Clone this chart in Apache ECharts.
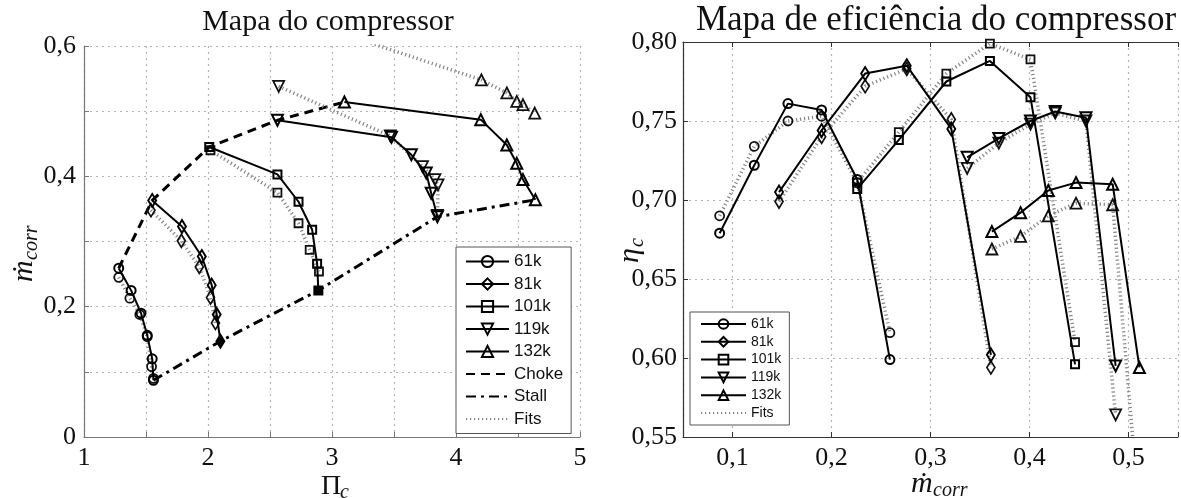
<!DOCTYPE html>
<html>
<head>
<meta charset="utf-8">
<script src="https://cdn.jsdelivr.net/npm/echarts@6.0.0/dist/echarts.min.js"></script>
<style>
  html, body { margin: 0; padding: 0; background: #fff; }
  #chart { width: 1181px; height: 498px; }
</style>
</head>
<body>
<div id="chart"></div>
<script>
// ---------- Compressor map: pressure ratio (Π_c) vs corrected mass flow ----------
const speeds = ['61k', '81k', '101k', '119k', '132k'];

// measured points (solid lines)
const map61Pi  = [1.28, 1.38, 1.46, 1.51, 1.55, 1.56];
const map61M   = [0.259, 0.225, 0.190, 0.156, 0.120, 0.087];
const map81Pi  = [1.55, 1.79, 1.95, 2.03, 2.07, 2.10];
const map81M   = [0.363, 0.323, 0.277, 0.233, 0.188, 0.147];
const map101Pi = [2.01, 2.56, 2.73, 2.84, 2.88, 2.89];
const map101M  = [0.445, 0.403, 0.361, 0.318, 0.266, 0.225];
const map119Pi = [2.56, 3.48, 3.64, 3.76, 3.80, 3.85];
const map119M  = [0.486, 0.460, 0.433, 0.405, 0.374, 0.338];
const map132Pi = [3.10, 4.20, 4.41, 4.49, 4.54, 4.64];
const map132M  = [0.514, 0.487, 0.448, 0.420, 0.395, 0.364];

// fitted points (dotted lines)
const fit61Pi  = [1.28, 1.37, 1.45, 1.51, 1.545, 1.56];
const fit61M   = [0.245, 0.213, 0.188, 0.154, 0.108, 0.090];
const fit81Pi  = [1.54, 1.785, 1.93, 2.02, 2.06];
const fit81M   = [0.348, 0.301, 0.261, 0.214, 0.175];
const fit101Pi = [2.02, 2.56, 2.73, 2.82, 2.895];
const fit101M  = [0.440, 0.375, 0.328, 0.287, 0.254];
const fit119Pi = [2.57, 3.47, 3.73, 3.83, 3.855, 3.85];
const fit119M  = [0.538, 0.462, 0.415, 0.395, 0.387, 0.340];
const fit132Pi = [3.10, 4.205, 4.41, 4.49, 4.54, 4.635];
const fit132M  = [0.618, 0.548, 0.528, 0.515, 0.510, 0.497];

// ---------- Efficiency map: η_c vs corrected mass flow ----------
const eff61M   = [0.087, 0.122, 0.156, 0.190, 0.226, 0.259];
const eff61Eta = [0.679, 0.722, 0.761, 0.757, 0.713, 0.599];
const eff81M   = [0.147, 0.190, 0.234, 0.276, 0.321, 0.361];
const eff81Eta = [0.705, 0.744, 0.780, 0.785, 0.745, 0.602];
const eff101M  = [0.226, 0.268, 0.316, 0.360, 0.401, 0.446];
const eff101Eta= [0.707, 0.738, 0.775, 0.788, 0.765, 0.596];
const eff119M  = [0.337, 0.369, 0.401, 0.426, 0.457, 0.487];
const eff119Eta= [0.727, 0.739, 0.750, 0.756, 0.752, 0.595];
const eff132M  = [0.362, 0.391, 0.419, 0.447, 0.484, 0.511];
const eff132Eta= [0.680, 0.692, 0.706, 0.711, 0.710, 0.594];

const effFit61Eta  = [0.690, 0.734, 0.750, 0.753, 0.711, 0.616];
const effFit81Eta  = [0.699, 0.740, 0.772, 0.783, 0.751, 0.594];
const effFit101Eta = [0.711, 0.743, 0.780, 0.799, 0.789, 0.610];
const effFit119Eta = [0.720, 0.736, 0.748, 0.755, 0.750, 0.564];
const effFit132Eta = [0.669, 0.677, 0.690, 0.698, 0.697, 0.500];

// axis ticks
const piTicks  = [1, 2, 3, 4, 5];
const mTicks   = [0, 0.2, 0.4, 0.6];
const effXTicks = [0.1, 0.2, 0.3, 0.4, 0.5];
const effYTicks = [0.55, 0.60, 0.65, 0.70, 0.75, 0.80];

// speed lines whose stall-end marker is drawn solid
const solidStallEnds = ['81k', '101k'];

// ---------- styling helpers ----------
const SERIF = "'Liberation Serif', 'DejaVu Serif', serif";
const SANS = "'Liberation Sans', 'DejaVu Sans', sans-serif";
const zip = (xs, ys) => xs.map((x, i) => [x, ys[i]]);
const comma = (v, d) => v.toFixed(d).replace('.', ',');
const near = (v, list) => list.some(t => Math.abs(t - v) < 1e-6);
const CLEAR = 'rgba(255,255,255,0)';
const FIT_LINE = { color: '#858585', width: 3.5, type: [1.2, 2.8], cap: 'butt' };

const markers = {
  '61k':  { symbol: 'circle',   symbolSize: 9,       symbolRotate: 0 },
  '81k':  { symbol: 'diamond',  symbolSize: [8, 13], symbolRotate: 0 },
  '101k': { symbol: 'rect',     symbolSize: 8,       symbolRotate: 0 },
  '119k': { symbol: 'triangle', symbolSize: 11,      symbolRotate: 180 },
  '132k': { symbol: 'triangle', symbolSize: 11,      symbolRotate: 0 }
};

function dataSeries(name, pts, gi, solidEnd) {
  const data = pts.map((p, i) =>
    (solidEnd && i === pts.length - 1) ? { value: p, itemStyle: { color: '#000' } } : p);
  return Object.assign({
    name, type: 'line', xAxisIndex: gi, yAxisIndex: gi, data, z: 4,
    lineStyle: { color: '#000', width: 2 },
    itemStyle: { color: CLEAR, borderColor: '#000', borderWidth: 2 }
  }, markers[name]);
}
function fitSeries(name, pts, gi) {
  return Object.assign({
    name: name + ' fit', type: 'line', xAxisIndex: gi, yAxisIndex: gi, data: pts, z: 3,
    lineStyle: FIT_LINE,
    itemStyle: { color: CLEAR, borderColor: '#111', borderWidth: 1.8 }
  }, markers[name]);
}

const mapData = [
  zip(map61Pi, map61M), zip(map81Pi, map81M), zip(map101Pi, map101M),
  zip(map119Pi, map119M), zip(map132Pi, map132M)
];
const mapFits = [
  zip(fit61Pi, fit61M), zip(fit81Pi, fit81M), zip(fit101Pi, fit101M),
  zip(fit119Pi, fit119M), zip(fit132Pi, fit132M)
];
const effData = [
  zip(eff61M, eff61Eta), zip(eff81M, eff81Eta), zip(eff101M, eff101Eta),
  zip(eff119M, eff119Eta), zip(eff132M, eff132Eta)
];
const effFits = [
  zip(eff61M, effFit61Eta), zip(eff81M, effFit81Eta), zip(eff101M, effFit101Eta),
  zip(eff119M, effFit119Eta), zip(eff132M, effFit132Eta)
];

// choke line joins the first point of every speed line, stall line the last
const chokePts = mapData.map(s => s[0]);
const stallPts = mapData.map(s => s[s.length - 1]);

const noMarker = { symbol: 'none', itemStyle: { color: CLEAR, borderWidth: 0 } };
const series = [];
// legend-only entry for fitted curves
series.push(Object.assign({
  name: 'Fits', type: 'line', xAxisIndex: 0, yAxisIndex: 0, data: [],
  lineStyle: { color: '#858585', width: 2.5, type: [1.2, 2.8], cap: 'butt' }
}, noMarker));
speeds.forEach((s, i) => series.push(fitSeries(s, mapFits[i], 0)));
speeds.forEach((s, i) => series.push(fitSeries(s, effFits[i], 1)));
series.push(Object.assign({
  name: 'Choke', type: 'line', xAxisIndex: 0, yAxisIndex: 0, data: chokePts, z: 2,
  lineStyle: { color: '#000', width: 3, type: [9, 6] }
}, noMarker));
series.push(Object.assign({
  name: 'Stall', type: 'line', xAxisIndex: 0, yAxisIndex: 0, data: stallPts, z: 2,
  lineStyle: { color: '#000', width: 3, type: [10, 5, 3, 5] }
}, noMarker));
speeds.forEach((s, i) => series.push(dataSeries(s, mapData[i], 0, solidStallEnds.includes(s))));
speeds.forEach((s, i) => series.push(dataSeries(s, effData[i], 1, false)));

const gridLine = { show: true, lineStyle: { color: '#b4b4b4', width: 1.2, type: [2, 4] } };
const tickFont = { fontFamily: SERIF, fontSize: 26, color: '#111' };

const option = {
  animation: false,
  backgroundColor: '#fff',
  grid: [
    { left: 84, top: 46, width: 496, height: 391 },
    { left: 683, top: 42, width: 498, height: 395 }
  ],
  xAxis: [
    {
      gridIndex: 0, type: 'value', min: 1, max: 5, interval: 0.5,
      axisLine: { lineStyle: { color: '#777', width: 1.2 } },
      axisTick: { inside: true, length: 5, lineStyle: { color: '#777' } },
      axisLabel: Object.assign({ margin: 8, formatter: v => near(v, piTicks) ? String(Math.round(v)) : '' }, tickFont),
      splitLine: gridLine
    },
    {
      gridIndex: 1, type: 'value', min: 0.05, max: 0.55, splitNumber: 5,
      axisLine: { lineStyle: { color: '#333', width: 1.2 } },
      axisTick: { inside: true, length: 5, lineStyle: { color: '#333' } },
      axisLabel: Object.assign({ margin: 8, formatter: v => near(v, effXTicks) ? comma(v, 1) : '' }, tickFont),
      splitLine: gridLine
    },
    {
      gridIndex: 1, type: 'value', position: 'top', min: 0.05, max: 0.55, splitNumber: 5,
      axisLine: { onZero: false, lineStyle: { color: '#333', width: 1.2 } },
      axisTick: { inside: true, length: 5, lineStyle: { color: '#333' } },
      axisLabel: { show: false }, splitLine: { show: false }
    }
  ],
  yAxis: [
    {
      gridIndex: 0, type: 'value', min: 0, max: 0.6, interval: 0.1,
      axisLine: { show: true, lineStyle: { color: '#777', width: 1.2 } },
      axisTick: { show: true, inside: true, length: 5, lineStyle: { color: '#777' } },
      axisLabel: Object.assign({ margin: 8, formatter: v => near(v, mTicks) ? (v === 0 ? '0' : comma(v, 1)) : '' }, tickFont),
      splitLine: gridLine
    },
    {
      gridIndex: 1, type: 'value', min: 0.55, max: 0.8, interval: 0.05,
      axisLine: { show: true, lineStyle: { color: '#333', width: 1.2 } },
      axisTick: { show: true, inside: true, length: 5, lineStyle: { color: '#333' } },
      axisLabel: Object.assign({ margin: 6, formatter: v => near(v, effYTicks) ? comma(v, 2) : '' }, tickFont),
      splitLine: gridLine
    }
  ],
  legend: [
    {
      orient: 'vertical', left: 456, top: 247,
      itemWidth: 43, itemHeight: 14, itemGap: 5.5,
      padding: [6, 8, 6, 9],
      borderColor: '#555', borderWidth: 1, backgroundColor: '#fff',
      textStyle: { fontFamily: SANS, fontSize: 17, color: '#111' },
      data: speeds.concat(['Choke', 'Stall', 'Fits'])
    },
    {
      orient: 'vertical', left: 690, top: 312,
      itemWidth: 45, itemHeight: 12, itemGap: 3.8,
      padding: [5, 8, 5, 10],
      borderColor: '#555', borderWidth: 1, backgroundColor: '#fff',
      textStyle: { fontFamily: SANS, fontSize: 14, color: '#111' },
      data: speeds.concat(['Fits'])
    }
  ],
  graphic: [
    { type: 'text', x: 328, y: 22, style: { text: 'Mapa do compressor', fontFamily: SERIF, fontSize: 30, fill: '#111', align: 'center', verticalAlign: 'middle' } },
    { type: 'text', x: 936, y: 21, style: { text: 'Mapa de eficiência do compressor', fontFamily: SERIF, fontSize: 35, fill: '#111', align: 'center', verticalAlign: 'middle' } },
    // y-axis name of the compressor map
    { type: 'group', x: 24, y: 250, rotation: Math.PI / 2, children: [
      { type: 'text', x: -32, y: 0, style: { text: 'ṁ', fontFamily: SERIF, fontStyle: 'italic', fontSize: 30, fill: '#111', align: 'left', verticalAlign: 'middle' } },
      { type: 'text', x: -10, y: 8, style: { text: 'corr', fontFamily: SERIF, fontStyle: 'italic', fontSize: 20, fill: '#111', align: 'left', verticalAlign: 'middle' } }
    ] },
    // x-axis name of the compressor map
    { type: 'text', x: 321, y: 487, style: { text: 'Π', fontFamily: SERIF, fontSize: 28, fill: '#111', align: 'left', verticalAlign: 'middle' } },
    { type: 'text', x: 340, y: 493, style: { text: 'c', fontFamily: SERIF, fontStyle: 'italic', fontSize: 20, fill: '#111', align: 'left', verticalAlign: 'middle' } },
    // y-axis name of the efficiency map
    { type: 'group', x: 630, y: 249, rotation: Math.PI / 2, children: [
      { type: 'text', x: -14, y: 0, style: { text: 'η', fontFamily: SERIF, fontStyle: 'italic', fontSize: 30, fill: '#111', align: 'left', verticalAlign: 'middle' } },
      { type: 'text', x: 2, y: 8, style: { text: 'c', fontFamily: SERIF, fontStyle: 'italic', fontSize: 20, fill: '#111', align: 'left', verticalAlign: 'middle' } }
    ] },
    // x-axis name of the efficiency map
    { type: 'text', x: 911, y: 484, style: { text: 'ṁ', fontFamily: SERIF, fontStyle: 'italic', fontSize: 30, fill: '#111', align: 'left', verticalAlign: 'middle' } },
    { type: 'text', x: 933, y: 491, style: { text: 'corr', fontFamily: SERIF, fontStyle: 'italic', fontSize: 20, fill: '#111', align: 'left', verticalAlign: 'middle' } }
  ],
  series
};

const chart = echarts.init(document.getElementById('chart'), null, { renderer: 'canvas' });
chart.setOption(option);
</script>
</body>
</html>
